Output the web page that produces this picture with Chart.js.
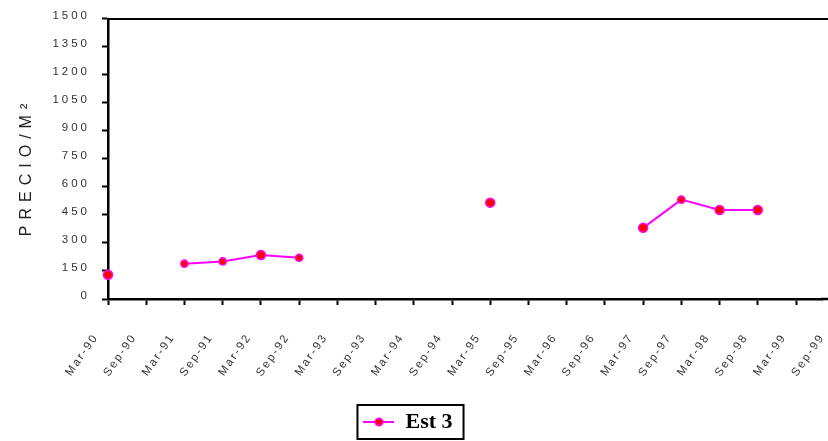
<!DOCTYPE html>
<html>
<head>
<meta charset="utf-8">
<script src="https://cdn.jsdelivr.net/npm/chart.js@4/dist/chart.umd.min.js"></script>
<style>
  html, body { margin: 0; padding: 0; background: #fff; overflow: hidden; width: 828px; height: 441px; }
  canvas { display: block; }
</style>
</head>
<body>
<canvas id="chart" width="828" height="441"></canvas>
<script>
// Half-year periods along the bottom axis
const periods = [
  'Mar-90', 'Sep-90', 'Mar-91', 'Sep-91', 'Mar-92', 'Sep-92', 'Mar-93', 'Sep-93',
  'Mar-94', 'Sep-94', 'Mar-95', 'Sep-95', 'Mar-96', 'Sep-96', 'Mar-97', 'Sep-97',
  'Mar-98', 'Sep-98', 'Mar-99', 'Sep-99'
];

// Price per square metre, station 3 (null = no observation)
const est3 = [
  130, null, 189, 201, 236, 221, null, null,
  null, null, 516, null, null, null, 381, 532,
  477, 477, null, null
];

const seriesName = 'Est 3';
const yTitle = 'PRECIO/M\u00B2';
const yMin = 0;
const yMax = 1500;
const yStep = 150;
// The plot frame is cut at the right edge, just before the last period
const xMax = 18.68;

// Scales that draw their text with extra letter spacing
const spacing = { xLabels: '2px', yLabels: '3px', yTitle: '6px' };

class SpacedPeriodScale extends Chart.LinearScale {
  static id = 'spacedPeriod';
  drawLabels(area) {
    const c = this.ctx;
    c.save();
    c.letterSpacing = spacing.xLabels;
    super.drawLabels(area);
    c.restore();
  }
}

class SpacedLinearScale extends Chart.LinearScale {
  static id = 'spacedLinear';
  drawLabels(area) {
    const c = this.ctx;
    c.save();
    c.letterSpacing = spacing.yLabels;
    super.drawLabels(area);
    c.restore();
  }
  drawTitle() {
    const c = this.ctx;
    c.save();
    c.letterSpacing = spacing.yTitle;
    c.translate(0, 8);
    super.drawTitle();
    c.restore();
  }
}

Chart.register(SpacedPeriodScale, SpacedLinearScale);

// Legend symbol: a short magenta line with a red marker
function legendSymbol() {
  const cv = document.createElement('canvas');
  cv.width = 31; cv.height = 12;
  const g = cv.getContext('2d');
  g.strokeStyle = '#FF00FF';
  g.lineWidth = 2;
  g.beginPath(); g.moveTo(0, 6); g.lineTo(31, 6); g.stroke();
  g.beginPath(); g.arc(15.5, 6, 3.8, 0, Math.PI * 2);
  g.fillStyle = '#FF0000'; g.fill();
  g.lineWidth = 1.5; g.stroke();
  return cv;
}
const symbol = legendSymbol();

// Plot frame (top edge, axis carried to the canvas edge) and the legend box
const framePlugin = {
  id: 'frame',
  afterLayout(chart) {
    const lg = chart.legend;
    lg.left -= 6; lg.right -= 6;
    lg.top += 2; lg.bottom += 2;
  },
  afterDraw(chart) {
    const { ctx, chartArea: a } = chart;
    ctx.save();
    ctx.strokeStyle = '#000';
    ctx.lineWidth = 2;
    ctx.beginPath();
    ctx.moveTo(a.left, a.top);
    ctx.lineTo(chart.width, a.top);
    ctx.stroke();
    ctx.lineWidth = 2.5;
    ctx.beginPath();
    ctx.moveTo(a.right - 1, a.bottom);
    ctx.lineTo(chart.width, a.bottom);
    ctx.stroke();
    const hb = chart.legend.legendHitBoxes[0];
    if (hb) {
      ctx.lineWidth = 2;
      ctx.strokeRect(hb.left - 6, hb.top - 6, hb.width + 17, hb.height + 12);
    }
    ctx.restore();
  }
};

const points = est3.map((v, i) => ({ x: i, y: v }));

new Chart(document.getElementById('chart'), {
  type: 'line',
  data: {
    datasets: [{
      label: seriesName,
      data: points,
      clip: false,
      borderColor: '#FF00FF',
      borderWidth: 2,
      backgroundColor: '#FF0000',
      pointBackgroundColor: '#FF0000',
      pointBorderColor: '#FF00FF',
      pointBorderWidth: 1.5,
      pointRadius: [4.5, 0, 3.6, 3.6, 4.5, 3.6, 0, 0, 0, 0, 4.5, 0, 0, 0, 4.5, 3.6, 4.5, 4.5, 0, 0],
      spanGaps: false,
      tension: 0
    }]
  },
  options: {
    responsive: false,
    devicePixelRatio: 1,
    animation: false,
    layout: { padding: { top: 18, right: 0, left: 0, bottom: 0 } },
    plugins: {
      tooltip: { enabled: false },
      legend: {
        position: 'bottom',
        labels: {
          usePointStyle: true,
          pointStyleWidth: 31,
          padding: 10,
          color: '#000',
          font: { family: 'Liberation Serif', weight: 'bold', size: 22 },
          generateLabels: (chart) => [{
            text: chart.data.datasets[0].label,
            pointStyle: symbol,
            fillStyle: '#FF0000',
            strokeStyle: '#FF00FF',
            lineWidth: 0,
            hidden: false,
            datasetIndex: 0
          }]
        }
      }
    },
    scales: {
      x: {
        type: 'spacedPeriod',
        min: 0,
        max: xMax,
        afterFit: (s) => { s.height = 100; s.paddingRight = 0; },
        afterBuildTicks: (s) => { s.ticks = periods.map((p, i) => ({ value: i })); },
        grid: { drawOnChartArea: false, drawTicks: true, tickLength: 6, color: '#000', tickWidth: 2 },
        border: { display: true, color: '#000', width: 2.5 },
        ticks: {
          autoSkip: false,
          minRotation: 55,
          maxRotation: 55,
          padding: 26,
          labelOffset: -12,
          color: '#333',
          font: { family: 'Liberation Sans', size: 11.5 },
          callback: (v) => periods[v]
        }
      },
      y: {
        type: 'spacedLinear',
        min: yMin,
        max: yMax,
        afterFit: (s) => { s.width = 108; },
        grid: { drawOnChartArea: false, drawTicks: true, tickLength: 6, color: '#000', tickWidth: 2 },
        border: { display: true, color: '#000', width: 2.5 },
        ticks: {
          stepSize: yStep,
          padding: 12,
          labelOffset: -3.5,
          color: '#333',
          font: { family: 'Liberation Sans', size: 11.5 },
          callback: (v) => String(v)
        },
        title: {
          display: true,
          text: yTitle,
          color: '#222',
          padding: { top: 17, bottom: 0 },
          font: { family: 'Liberation Sans', size: 16 }
        }
      }
    }
  },
  plugins: [framePlugin]
});
</script>
</body>
</html>
